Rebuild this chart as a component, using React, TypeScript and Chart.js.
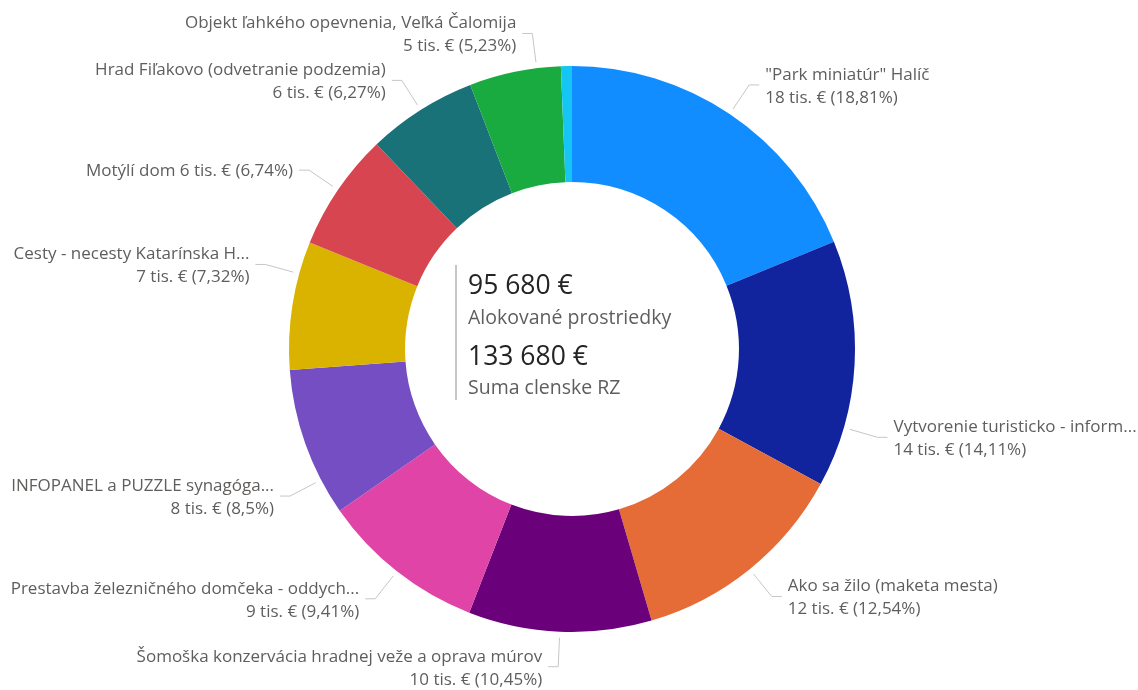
import React, { useEffect, useRef } from "react";
import { Chart, registerables } from "chart.js";

Chart.register(...registerables);

const categories: string[] = [
  '"Park miniatúr" Halíč',
  "Vytvorenie turisticko - inform...",
  "Ako sa žilo (maketa mesta)",
  "Šomoška konzervácia hradnej veže a oprava múrov",
  "Prestavba železničného domčeka - oddych...",
  "INFOPANEL a PUZZLE synagóga...",
  "Cesty - necesty Katarínska H...",
  "Motýlí dom",
  "Hrad Fiľakovo (odvetranie podzemia)",
  "Objekt ľahkého opevnenia, Veľká Čalomija",
  "Ostatné",
];

const values: number[] = [18000, 13500, 12000, 10000, 9000, 8130, 7000, 6450, 6000, 5000, 600];

const colors: string[] = [
  "#118DFF",
  "#12239E",
  "#E66C37",
  "#6B007B",
  "#E044A7",
  "#744EC2",
  "#D9B300",
  "#D64550",
  "#197278",
  "#1AAB40",
  "#15C6F4",
];

const showLabel: boolean[] = [true, true, true, true, true, true, true, true, true, true, false];

const budgetTotal = 133680;
const centerCaptions: string[] = ["Alokované prostriedky", "Suma clenske RZ"];

const FONT = "'Open Sans', 'Noto Sans', sans-serif";

function fmtEuro(v: number): string {
  return String(Math.round(v)).replace(/\B(?=(\d{3})+(?!\d))/g, " ") + " €";
}

function fmtPct(v: number, total: number): string {
  let s = ((v / total) * 100).toFixed(2);
  s = s.replace(/0+$/, "").replace(/\.$/, "");
  return s.replace(".", ",") + "%";
}

// layout-only angle adjustments (degrees, clockwise) for label leaders
const labelNudge: Record<number, number> = { 1: 13, 5: -8, 6: 6.5, 9: 4.5 };

const outLabels = {
  id: "outLabels",
  afterDatasetsDraw(chart: any) {
    const ctx = chart.ctx as CanvasRenderingContext2D;
    const meta = chart.getDatasetMeta(0);
    const data = chart.data.datasets[0].data as number[];
    const total = data.reduce((a, b) => a + b, 0);
    ctx.save();
    meta.data.forEach((arc: any, i: number) => {
      if (!showLabel[i]) return;
      const p = arc.getProps(["x", "y", "startAngle", "endAngle", "outerRadius"], true);
      const mid = (p.startAngle + p.endAngle) / 2 + ((labelNudge[i] || 0) * Math.PI) / 180;
      const dx = Math.cos(mid);
      const dy = Math.sin(mid);
      const side = dx >= 0 ? 1 : -1;
      const r0 = p.outerRadius + 6;
      const r1 = p.outerRadius + 35;
      const x0 = p.x + dx * r0;
      const y0 = p.y + dy * r0;
      const x1 = p.x + dx * r1;
      const y1 = p.y + dy * r1;
      const x2 = x1 + side * 10;
      ctx.strokeStyle = "#C8C6C4";
      ctx.lineWidth = 1;
      ctx.beginPath();
      ctx.moveTo(x0, y0);
      ctx.lineTo(x1, y1);
      ctx.lineTo(x2, y1);
      ctx.stroke();

      const name = categories[i];
      const valTxt = `${Math.round(data[i] / 1000)} tis. € (${fmtPct(data[i], total)})`;
      ctx.font = `17px ${FONT}`;
      ctx.fillStyle = "#605E5C";
      ctx.textAlign = side > 0 ? "left" : "right";
      ctx.textBaseline = "middle";
      const tx = x2 + side * 6;
      if (name.length < 12) {
        ctx.fillText(`${name} ${valTxt}`, tx, y1 + 1);
      } else {
        ctx.fillText(name, tx, y1 - 10);
        ctx.fillText(valTxt, tx, y1 + 13);
      }
    });

    // center block
    const a0 = meta.data[0].getProps(["x", "y"], true);
    const cx = a0.x;
    const cy = a0.y;
    const lx = cx - 116;
    ctx.strokeStyle = "#C8C6C4";
    ctx.lineWidth = 2;
    ctx.beginPath();
    ctx.moveTo(lx, cy - 84);
    ctx.lineTo(lx, cy + 51);
    ctx.stroke();
    ctx.textAlign = "left";
    ctx.textBaseline = "middle";
    const tx = lx + 12;
    ctx.fillStyle = "#252423";
    ctx.font = `26.5px ${FONT}`;
    ctx.fillText(fmtEuro(total), tx, cy - 63);
    ctx.fillStyle = "#605E5C";
    ctx.font = `19.5px ${FONT}`;
    ctx.fillText(centerCaptions[0], tx, cy - 31);
    ctx.fillStyle = "#252423";
    ctx.font = `26.5px ${FONT}`;
    ctx.fillText(fmtEuro(budgetTotal), tx, cy + 8);
    ctx.fillStyle = "#605E5C";
    ctx.font = `19.5px ${FONT}`;
    ctx.fillText(centerCaptions[1], tx, cy + 39);
    ctx.restore();
  },
};

export default function App() {
  const ref = useRef<HTMLCanvasElement | null>(null);
  useEffect(() => {
    document.body.style.margin = "0";
    if (!ref.current) return;
    const chart = new Chart(ref.current, {
      type: "doughnut",
      data: {
        labels: categories,
        datasets: [
          {
            data: values,
            backgroundColor: colors,
            borderWidth: 0,
          },
        ],
      },
      options: {
        responsive: false,
        animation: false,
        cutout: "59%",
        rotation: 0,
        layout: { padding: { top: 66, bottom: 58, left: 6, right: 0 } },
        plugins: {
          legend: { display: false },
          tooltip: { enabled: false },
        },
      },
      plugins: [outLabels],
    });
    return () => chart.destroy();
  }, []);
  return (
    <div style={{ width: 1138, height: 690, background: "#fff" }}>
      <canvas ref={ref} width={1138} height={690} style={{ display: "block" }} />
    </div>
  );
}
